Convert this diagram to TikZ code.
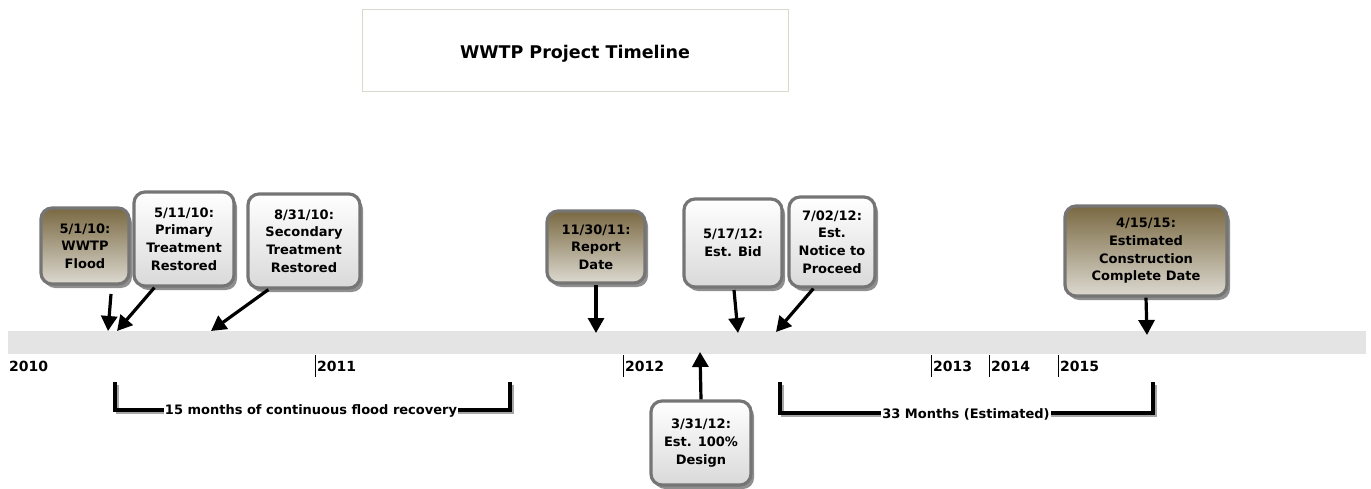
\documentclass[tikz,border=0pt]{standalone}
\usepackage{fontspec}
\setmainfont{DejaVu Sans}
\usetikzlibrary{shadows,arrows.meta}
\definecolor{barc}{HTML}{E4E4E4}
\definecolor{bordc}{HTML}{757575}
\definecolor{browntop}{HTML}{7A6942}
\definecolor{brownbot}{HTML}{DCD9D0}
\definecolor{whtop}{HTML}{FFFFFF}
\definecolor{whbot}{HTML}{D9D9D9}
\definecolor{titlec}{HTML}{D9D9CC}
\tikzset{
  evbox/.style={rectangle, rounded corners=11pt, draw=bordc, line width=3.2pt,
    align=center, font=\bfseries\fontsize{13}{17.6}\selectfont, inner sep=2pt,
    drop shadow={shadow xshift=3pt, shadow yshift=-4pt, opacity=0.55, fill=black!80}},
  brownbox/.style={evbox, top color=browntop, bottom color=brownbot},
  whitebox/.style={evbox, top color=whtop, bottom color=whbot},
  evarrow/.style={line width=3.2pt, -{Triangle[length=15pt,width=16pt]}},
  yearlbl/.style={anchor=west, font=\bfseries\fontsize{14}{16}\selectfont, inner sep=1pt},
  ticklin/.style={line width=0.8pt},
  brk/.style={line width=3.5pt},
  brkshadow/.style={line width=3.5pt, black!35},
  brklbl/.style={fill=white, font=\bfseries\fontsize{13}{15}\selectfont, inner sep=1pt}
}
\begin{document}
\begin{tikzpicture}[x=1pt,y=-1pt]
\useasboundingbox (0,0) rectangle (1371,489);
% title
\node[draw=titlec, line width=1pt, minimum width=426pt, minimum height=82pt] (title) at (575,51) {};
\node[font=\bfseries\fontsize{17.5}{20}\selectfont] (titletext) at (575,54) {WWTP Project Timeline};
% bar
\fill[barc] (8,331) rectangle (1366,354);
\coordinate (bar) at (687,342);
% ticks and years
\node[yearlbl] (y2010) at (8,366) {2010};
\draw[ticklin] (315,355) -- (315,377);
\node[yearlbl] (y2011) at (316,366) {2011};
\draw[ticklin] (623,355) -- (623,377);
\node[yearlbl] (y2012) at (624,366) {2012};
\draw[ticklin] (931,355) -- (931,377);
\node[yearlbl] (y2013) at (932,366) {2013};
\draw[ticklin] (989,355) -- (989,377);
\node[yearlbl] (y2014) at (990,366) {2014};
\draw[ticklin] (1058,355) -- (1058,377);
\node[yearlbl] (y2015) at (1059,366) {2015};
% boxes
\node[brownbox, minimum width=88pt, minimum height=76pt] (flood) at (85,246) {5/1/10:\\WWTP\\Flood};
\node[whitebox, minimum width=100pt, minimum height=94pt] (primary) at (184,239) {5/11/10:\\Primary\\Treatment\\Restored};
\node[whitebox, minimum width=112pt, minimum height=94pt] (secondary) at (304,241) {8/31/10:\\Secondary\\Treatment\\Restored};
\node[brownbox, minimum width=98pt, minimum height=72pt] (report) at (596,247) {11/30/11:\\Report\\Date};
\node[whitebox, minimum width=98pt, minimum height=88pt] (bid) at (733,243) {5/17/12:\\Est. Bid};
\node[whitebox, minimum width=86pt, minimum height=90pt] (ntp) at (832,242) {7/02/12:\\Est.\\Notice to\\Proceed};
\node[whitebox, minimum width=100pt, minimum height=84pt] (design) at (701,443) {3/31/12:\\Est. 100\%\\Design};
\node[brownbox, minimum width=162pt, minimum height=90pt] (complete) at (1146,251) {4/15/15:\\Estimated\\Construction\\Complete Date};
% arrow endpoints
\coordinate (fs) at (111,294); \coordinate (fe) at (108,331);
\coordinate (pe) at (117,331);
\coordinate (se) at (211,331);
\coordinate (re) at (596,333);
\coordinate (bs) at (734,290); \coordinate (be) at (738,333);
\coordinate (ne) at (776,332);
\coordinate (de) at (700,352);
\coordinate (ce) at (1147,335);
\draw[evarrow] (fs) -- (fe);
\draw[evarrow] (primary.south west) ++(22,0) coordinate (ps) (ps) -- (pe);
\draw[evarrow] (secondary.south west) ++(22,0) coordinate (ss) (ss) -- (se);
\draw[evarrow] (report.south) -- (re);
\draw[evarrow] (bs) -- (be);
\draw[evarrow] (ntp.south west) ++(26,0) coordinate (ns) (ns) -- (ne);
\draw[evarrow] (design.north) -- (de);
\draw[evarrow] (complete.south) -- (ce);
% brackets
\coordinate (l1) at (115,382); \coordinate (l2) at (115,410);
\coordinate (l3) at (510,410); \coordinate (l4) at (510,382);
\draw[brkshadow] ([shift={(2.5,2.5)}]l1) -- ([shift={(2.5,2.5)}]l2) -- ([shift={(2.5,2.5)}]l3) -- ([shift={(2.5,2.5)}]l4);
\draw[brk] (l1) -- (l2) -- (l3) -- (l4);
\node[brklbl] (lbl1) at (311,411) {15 months of continuous flood recovery};
\coordinate (r1) at (780,382); \coordinate (r2) at (780,413);
\coordinate (r3) at (1153,413); \coordinate (r4) at (1153,382);
\draw[brkshadow] ([shift={(2.5,2.5)}]r1) -- ([shift={(2.5,2.5)}]r2) -- ([shift={(2.5,2.5)}]r3) -- ([shift={(2.5,2.5)}]r4);
\draw[brk] (r1) -- (r2) -- (r3) -- (r4);
\node[brklbl] (lbl2) at (966,414) {33 Months (Estimated)};
\end{tikzpicture}
\end{document}
